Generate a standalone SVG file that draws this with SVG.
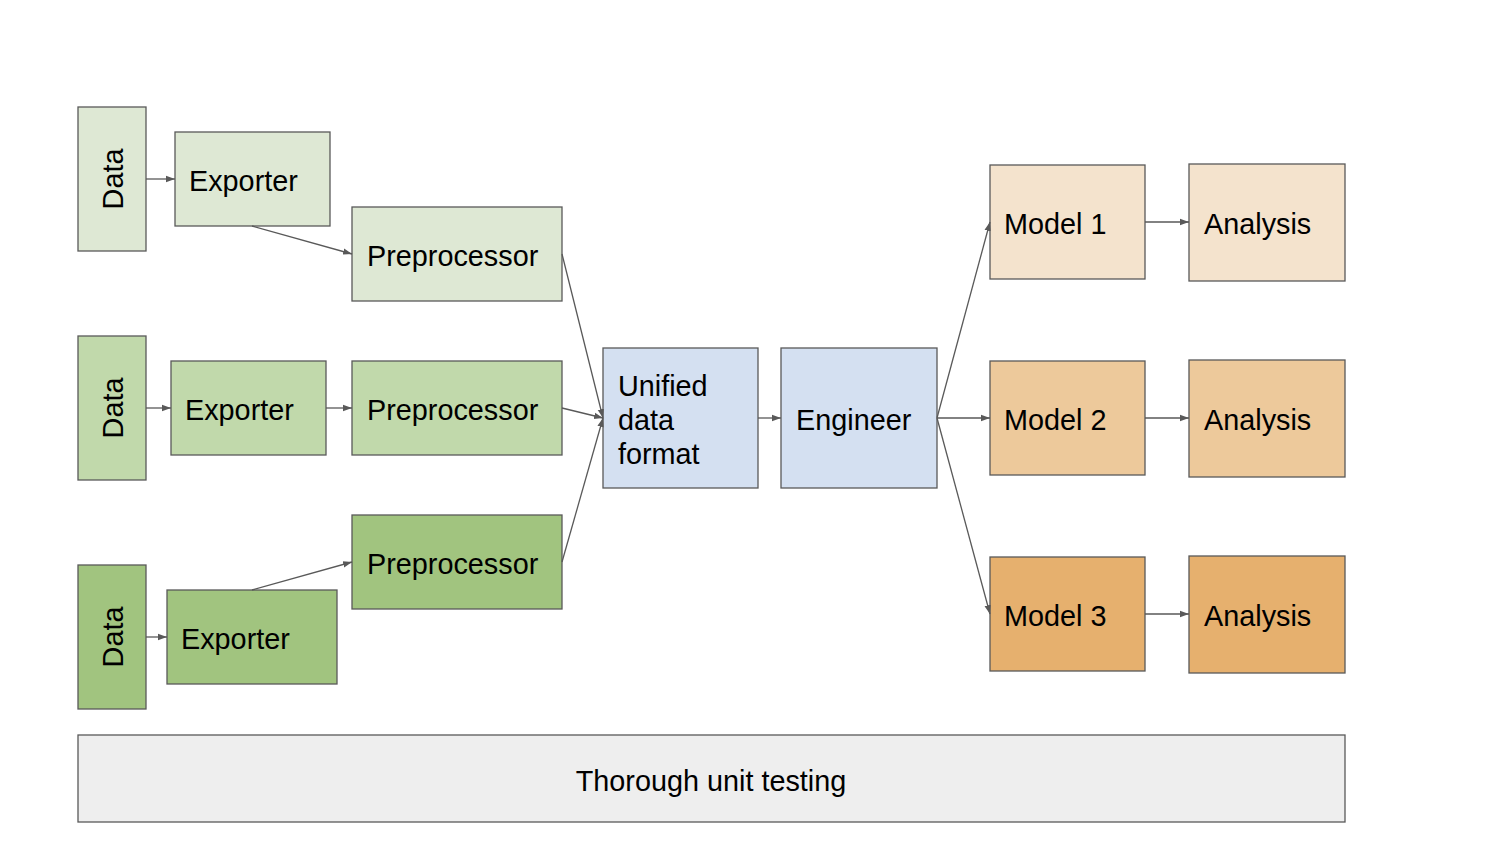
<svg xmlns="http://www.w3.org/2000/svg" width="1500" height="843" viewBox="0 0 1500 843">
<defs>
<marker id="ah" markerWidth="10" markerHeight="8" refX="9" refY="4" orient="auto" markerUnits="userSpaceOnUse">
<path d="M0,0.8 L9,4 L0,7.2 Z" fill="#595959"/>
</marker>
<style>
rect{stroke:#595959;stroke-width:1.3}
text{font-family:"Liberation Sans",Arial,sans-serif;font-size:28.8px;fill:#000}
.g1{fill:#dee8d4}.g2{fill:#c1d9ab}.g3{fill:#a1c47f}
.b{fill:#d4e0f1}
.o1{fill:#f4e3cd}.o2{fill:#edc99b}.o3{fill:#e6b06e}
.gr{fill:#eeeeee}
.c line{stroke:#595959;stroke-width:1.3;marker-end:url(#ah)}
</style>
</defs>
<rect width="1500" height="843" fill="#ffffff" style="stroke:none"/>
<g id="data1"><rect class="g1" x="78" y="107" width="68" height="144"/><text transform="translate(123,179) rotate(-90)" text-anchor="middle">Data</text></g>
<g id="exporter1"><rect class="g1" x="175" y="132" width="155" height="94"/><text x="189" y="191">Exporter</text></g>
<g id="preprocessor1"><rect class="g1" x="352" y="207" width="210" height="94"/><text x="367" y="266">Preprocessor</text></g>
<g id="data2"><rect class="g2" x="78" y="336" width="68" height="144"/><text transform="translate(123,408) rotate(-90)" text-anchor="middle">Data</text></g>
<g id="exporter2"><rect class="g2" x="171" y="361" width="155" height="94"/><text x="185" y="420">Exporter</text></g>
<g id="preprocessor2"><rect class="g2" x="352" y="361" width="210" height="94"/><text x="367" y="420">Preprocessor</text></g>
<g id="data3"><rect class="g3" x="78" y="565" width="68" height="144"/><text transform="translate(123,637) rotate(-90)" text-anchor="middle">Data</text></g>
<g id="exporter3"><rect class="g3" x="167" y="590" width="170" height="94"/><text x="181" y="649">Exporter</text></g>
<g id="preprocessor3"><rect class="g3" x="352" y="515" width="210" height="94"/><text x="367" y="574">Preprocessor</text></g>
<g id="unified"><rect class="b" x="603" y="348" width="155" height="140"/><text x="618" y="396">Unified</text><text x="618" y="430">data</text><text x="618" y="464">format</text></g>
<g id="engineer"><rect class="b" x="781" y="348" width="156" height="140"/><text x="796" y="430">Engineer</text></g>
<g id="model1"><rect class="o1" x="990" y="165" width="155" height="114"/><text x="1004" y="234">Model 1</text></g>
<g id="analysis1"><rect class="o1" x="1189" y="164" width="156" height="117"/><text x="1204" y="234">Analysis</text></g>
<g id="model2"><rect class="o2" x="990" y="361" width="155" height="114"/><text x="1004" y="430">Model 2</text></g>
<g id="analysis2"><rect class="o2" x="1189" y="360" width="156" height="117"/><text x="1204" y="430">Analysis</text></g>
<g id="model3"><rect class="o3" x="990" y="557" width="155" height="114"/><text x="1004" y="626">Model 3</text></g>
<g id="analysis3"><rect class="o3" x="1189" y="556" width="156" height="117"/><text x="1204" y="626">Analysis</text></g>
<g id="testing"><rect class="gr" x="78" y="735" width="1267" height="87"/><text x="711" y="791" text-anchor="middle">Thorough unit testing</text></g>
<g id="connectors" class="c">
<line x1="146" y1="179" x2="175" y2="179"/>
<line x1="252" y1="226" x2="352" y2="254"/>
<line x1="562" y1="254" x2="603" y2="418"/>
<line x1="146" y1="408" x2="171" y2="408"/>
<line x1="326" y1="408" x2="352" y2="408"/>
<line x1="562" y1="408" x2="603" y2="418"/>
<line x1="146" y1="637" x2="167" y2="637"/>
<line x1="252" y1="590" x2="352" y2="562"/>
<line x1="562" y1="562" x2="603" y2="418"/>
<line x1="758" y1="418" x2="781" y2="418"/>
<line x1="937" y1="418" x2="990" y2="222"/>
<line x1="937" y1="418" x2="990" y2="418"/>
<line x1="937" y1="418" x2="990" y2="614"/>
<line x1="1145" y1="222" x2="1189" y2="222"/>
<line x1="1145" y1="418" x2="1189" y2="418"/>
<line x1="1145" y1="614" x2="1189" y2="614"/>
</g>
</svg>
